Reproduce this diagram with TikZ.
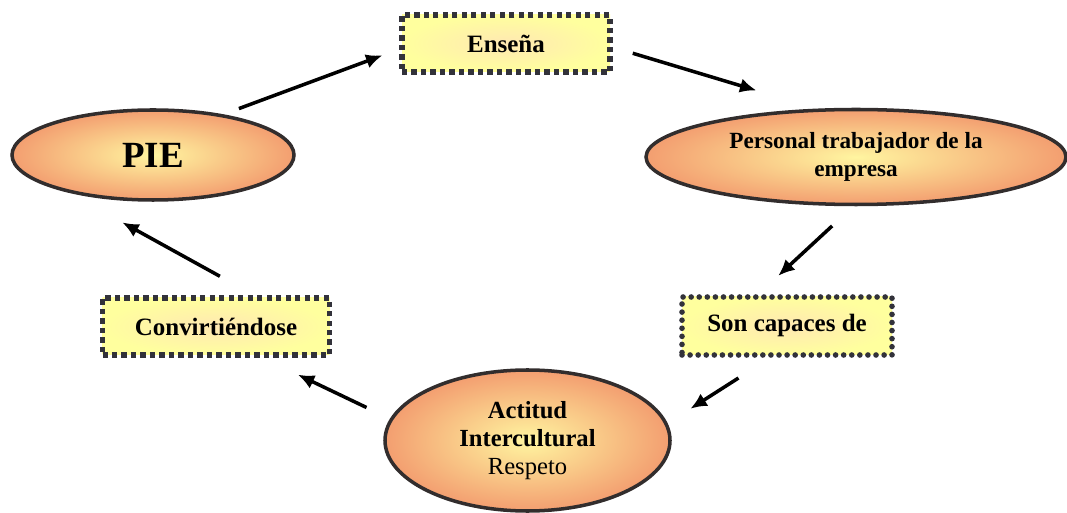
\documentclass[tikz,border=0pt]{standalone}
\usepackage{xcolor}
\usepackage{fontspec}
\setmainfont{Liberation Serif}
\usepackage{tikz}
\usetikzlibrary{arrows.meta}
\usetikzlibrary{shapes,positioning}

\definecolor{ovalout}{RGB}{243,158,112}
\definecolor{ovalin}{RGB}{255,245,160}
\definecolor{boxfill}{RGB}{255,255,158}
\definecolor{boxin}{RGB}{255,232,178}
\definecolor{dotgray}{RGB}{50,50,58}
\definecolor{rimgray}{RGB}{50,45,45}

\begin{document}
\begin{tikzpicture}[
        oval/.style={ellipse, draw=rimgray, line width=2pt, inner sep=0pt, align=center,
            inner color=ovalin, outer color=ovalout, font=\bfseries\fontsize{14}{16}\selectfont},
        dotbox/.style={rectangle, draw=dotgray, line width=3pt, dash pattern=on 3pt off 2.4pt,
            inner color=boxin, outer color=boxfill, align=center, inner sep=0pt,
            font=\bfseries\fontsize{14.2}{15}\selectfont},
        roundbox/.style={dotbox, line cap=round, line width=3.2pt, dash pattern=on 0pt off 4.6pt},
        arrow/.style={-{Latex[length=3.3mm,width=2.9mm]}, line width=2pt}
    ]
        \useasboundingbox (0,0) rectangle (21.34,-10.26);

        % the cycle of ovals and dotted boxes
        \node[dotbox, minimum width=4.16cm, minimum height=1.14cm] (ens) at (10.12,-0.87) {Enseña};
        \node[oval, minimum width=5.64cm, minimum height=1.8cm,
            font=\bfseries\fontsize{21}{22}\selectfont] (pie) at (3.06,-3.10) {PIE};
        \node[oval, minimum width=8.4cm, minimum height=1.9cm,
            font=\bfseries\fontsize{13.2}{16}\selectfont] (pers) at (17.12,-3.14)
            {Personal trabajador de la\\empresa};
        \node[roundbox, minimum width=4.2cm, minimum height=1.16cm] (son) at (15.74,-6.52) {Son capaces de};
        \node[dotbox, minimum width=4.54cm, minimum height=1.14cm] (conv) at (4.32,-6.53) {Convirtiéndose};
        \node[oval, minimum width=5.7cm, minimum height=2.82cm] (act) at (10.55,-8.81)
            {Actitud\\Intercultural\\{\mdseries Respeto}};

        % arrows round the cycle
        \draw[arrow, shorten <=0.33cm, shorten >=0.36cm] (pie.30) -- (ens.183);
        \draw[arrow, shorten <=0.42cm, shorten >=1.26cm] (ens.358) -- (pers.129);
        \draw[arrow, shorten <=0.58cm, shorten >=0.54cm] (pers.267) -- (son.132);
        \draw[arrow, shorten <=0.75cm, shorten >=0.54cm] (son.242) -- (act.7);
        \draw[arrow, shorten <=0.52cm, shorten >=0.79cm] (act.171) -- (conv.326);
        \draw[arrow, shorten <=0.79cm, shorten >=1.23cm] (conv.39) -- (pie.204);
    \end{tikzpicture}
\end{document}
